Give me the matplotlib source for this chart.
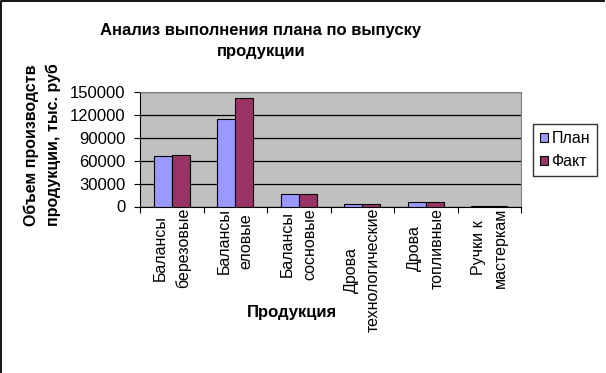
"""
Bar chart: plan vs actual production output.
"""

import numpy as np
import matplotlib
matplotlib.use("Agg")
import matplotlib.pyplot as plt
from matplotlib.lines import Line2D
from matplotlib.patches import Patch
from matplotlib.transforms import Bbox

categories = ["Балансы\nберезовые", "Балансы\nеловые", "Балансы\nсосновые",
              "Дрова\nтехнологические", "Дрова\nтопливные", "Ручки к\nмастеркам"]
plan = [66000, 115000, 16000, 3000, 5700, 1000]
fact = [67300, 142000, 16000, 3000, 5600, 1000]
y_ticks = [0, 30000, 60000, 90000, 120000, 150000]

plan_color = "#9999FF"
fact_color = "#993366"

plt.rcParams['font.family'] = ['Liberation Sans', 'DejaVu Sans']

W, H = 606, 373
fig = plt.figure(figsize=(W / 100, H / 100), dpi=100)


def fx(px):
    return px / W


def fy(py):
    return 1 - py / H


# outer chart frame: only left and top edges are visible
fig.add_artist(Line2D([fx(0.7), fx(0.7), fx(604)], [fy(373), fy(0.7), fy(0.7)],
                      transform=fig.transFigure, color="black", lw=1.3))

ax = fig.add_axes([fx(140), fy(206.5), fx(521) - fx(140), fy(92) - fy(206.5)])
ax.set_facecolor("#C0C0C0")

x = np.arange(len(categories))
w = 0.283
ax.bar(x - w / 2, plan, w, color=plan_color, edgecolor="black", lw=0.8, zorder=3)
ax.bar(x + w / 2, fact, w, color=fact_color, edgecolor="black", lw=0.8, zorder=3)

ax.set_xlim(-0.5, len(categories) - 0.5)
ax.set_ylim(0, 150000)
ax.set_yticks(y_ticks)
ax.set_yticklabels([str(v) for v in y_ticks], fontsize=12)
ax.yaxis.grid(True, color="black", lw=0.9, zorder=1)
ax.set_axisbelow(True)

ax.set_xticks(x)
ax.set_xticklabels(categories, rotation=90, fontsize=11.5, va="top", ha="center",
                   multialignment="center", linespacing=1.6)
ax.set_xticks(np.arange(len(categories) + 1) - 0.5, minor=True)
ax.tick_params(axis="x", which="major", length=0, pad=1)
ax.tick_params(axis="x", which="minor", length=4.5, width=0.8, direction="out")
ax.tick_params(axis="y", length=4.5, width=0.8, direction="out", pad=6)

for side in ["top", "right"]:
    ax.spines[side].set_color("#808080")
    ax.spines[side].set_linewidth(0.8)
for side in ["left", "bottom"]:
    ax.spines[side].set_color("black")
    ax.spines[side].set_linewidth(0.8)

fig.text(fx(261), fy(41), "Анализ выполнения плана по выпуску\nпродукции", ha="center", va="center",
         fontsize=12, fontweight="bold", linespacing=1.45)

ylab = fig.text(fx(42), fy(226), "Объем производства\nпродукции, тыс. руб.", rotation=90,
                ha="center", va="bottom", multialignment="left", fontsize=11.5,
                fontweight="bold", linespacing=1.55)
ylab.set_clip_box(Bbox.from_extents(0, 0, W, H - 65))
ylab.set_clip_on(True)

fig.text(fx(292), fy(313), "Продукция", ha="center", va="center", fontsize=12, fontweight="bold")

handles = [Patch(facecolor=plan_color, edgecolor="black", lw=0.8),
           Patch(facecolor=fact_color, edgecolor="black", lw=0.8)]
leg = fig.legend(handles, ["План", "Факт"], loc="center", bbox_to_anchor=(fx(565), fy(150)),
                 fontsize=11.5, frameon=True, fancybox=False, edgecolor="black",
                 handlelength=0.5, handleheight=0.5, handletextpad=0.2, labelspacing=0.5,
                 borderpad=0.45, borderaxespad=0)
leg.get_frame().set_linewidth(1.0)

fig.savefig("out.png", dpi=100)
